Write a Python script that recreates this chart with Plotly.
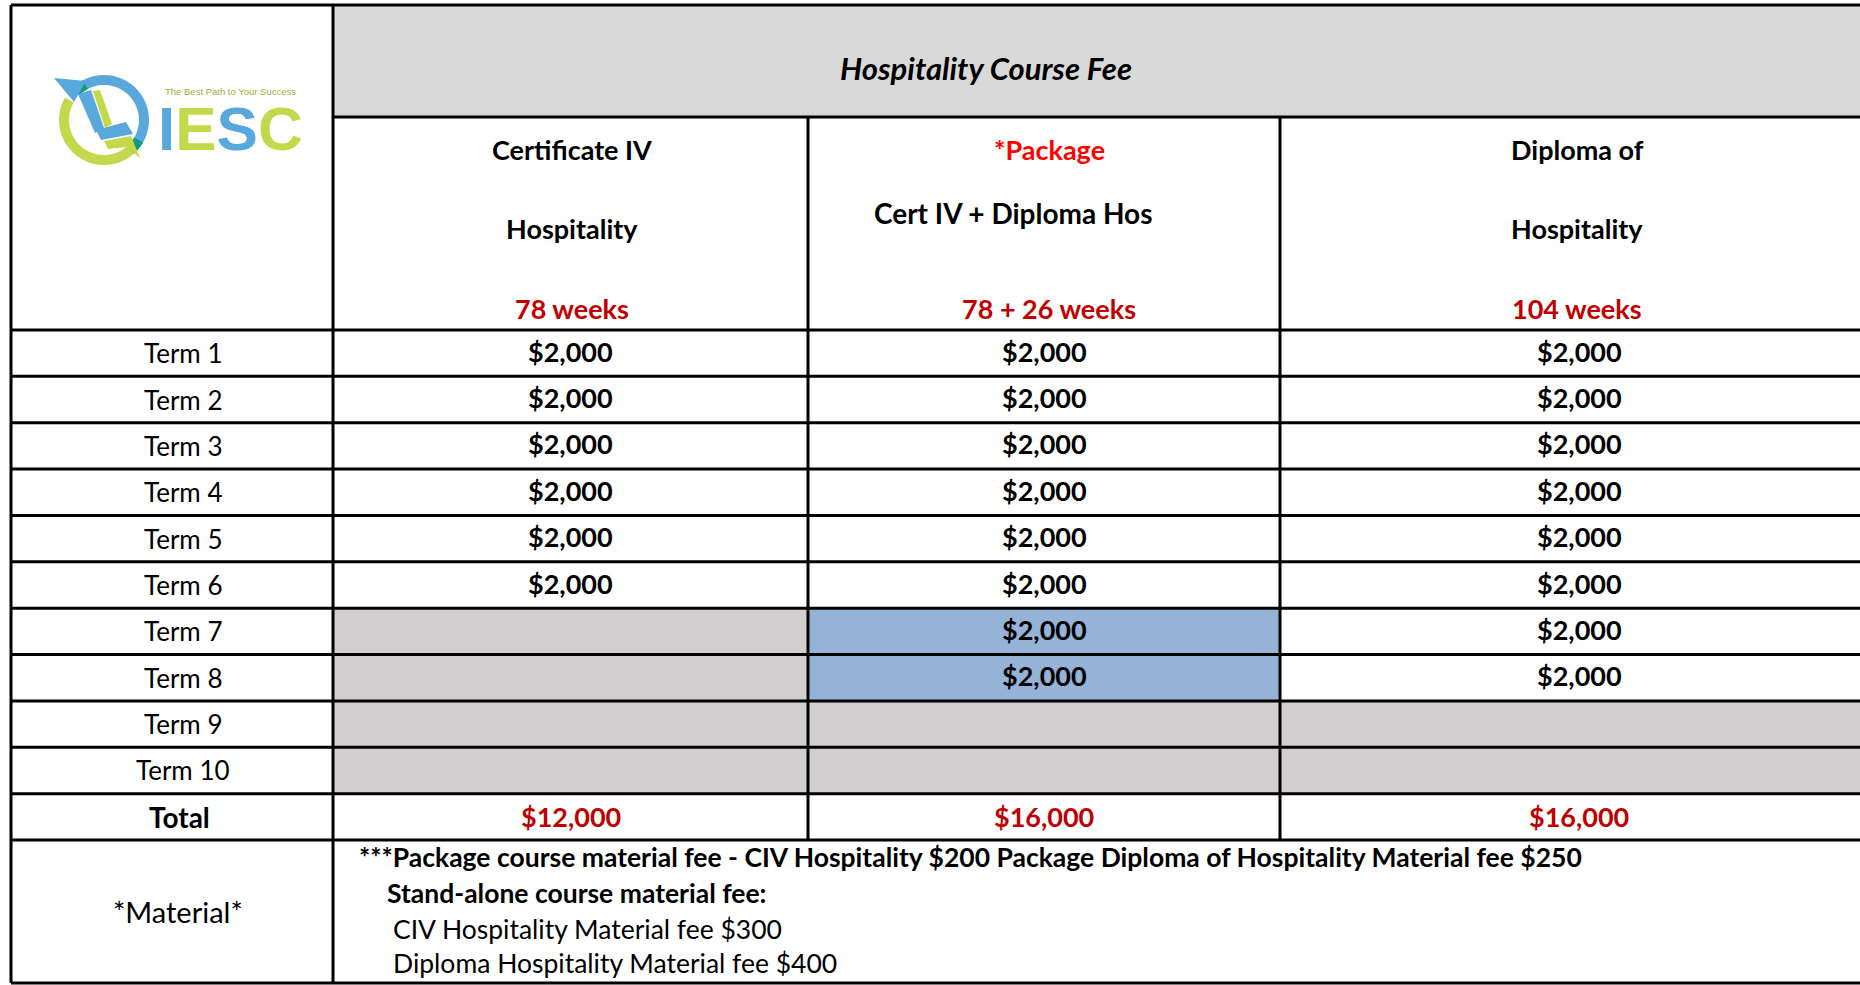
import numpy as np
import plotly.graph_objects as go

# ---------------- data ----------------
title = "Hospitality Course Fee"
course_names = [
    ["Certificate IV", "Hospitality"],
    ["*Package", "Cert IV + Diploma Hos"],
    ["Diploma of", "Hospitality"],
]
course_weeks = ["78 weeks", "78 + 26 weeks", "104 weeks"]
terms = ["Term 1", "Term 2", "Term 3", "Term 4", "Term 5",
         "Term 6", "Term 7", "Term 8", "Term 9", "Term 10"]
cert_iv_fees = [2000, 2000, 2000, 2000, 2000, 2000, None, None, None, None]
package_fees = [2000, 2000, 2000, 2000, 2000, 2000, 2000, 2000, None, None]
diploma_fees = [2000, 2000, 2000, 2000, 2000, 2000, 2000, 2000, None, None]
totals = [12000, 16000, 16000]
total_label = "Total"
material_label = "*Material*"
material_lines = [
    "***Package course material fee - CIV Hospitality $200 Package Diploma of Hospitality Material fee $250",
    "Stand-alone course material fee:",
    "CIV Hospitality Material fee $300",
    "Diploma Hospitality Material fee $400",
]
material_bold = [True, True, False, False]
logo_tagline = "The Best Path to Your Success"
logo_letters = ["I", "E", "S", "C"]

# ---------------- layout / style ----------------
W, H = 1860, 985
FONT = "Lato, 'Open Sans', sans-serif"
BLACK = "#000000"
DARKRED = "#C00000"
RED = "#FF0000"
HEAD_GRAY = "#D9D9D9"
EMPTY_GRAY = "#D0CECE"
BLUE_CELL = "#95B3D7"
LOGO_BLUE = "#58A8DC"
LOGO_GREEN = "#C3D84A"
LOGO_TEAL = "#139C7E"
LW = 3
FS_BOLD = 27
FS_REG = 26

col_x = [11, 333, 808, 1280, 1878]
label_cx = 183
top_y = 5
band_y = 117
head_y = 330
row_h = (840 - head_y) / 11.0
row_y = [head_y + i * row_h for i in range(12)]  # 10 terms + total
mat_bottom = 983
highlight_package_rows = {6, 7}

fee_cols = [cert_iv_fees, package_fees, diploma_fees]

fig = go.Figure()
fig.add_trace(go.Scatter(x=[0, W], y=[0, H], mode="markers",
                         marker=dict(opacity=0), hoverinfo="skip", showlegend=False))

shapes = []
annots = []


def rect(x0, y0, x1, y1, color):
    shapes.append(dict(type="rect", xref="x", yref="y", x0=x0, y0=y0, x1=x1, y1=y1,
                       fillcolor=color, line=dict(width=0), layer="below"))


def line(x0, y0, x1, y1, w=LW):
    shapes.append(dict(type="line", xref="x", yref="y", x0=x0, y0=y0, x1=x1, y1=y1,
                       line=dict(color=BLACK, width=w), layer="above"))


def text(x, y, s, size=FS_BOLD, color=BLACK, bold=False, italic=False, anchor="center", family=FONT):
    t = s
    if bold:
        t = "<b>" + t + "</b>"
    if italic:
        t = "<i>" + t + "</i>"
    annots.append(dict(x=x, y=y, xref="x", yref="y", text=t, showarrow=False,
                       xanchor=anchor, yanchor="middle",
                       font=dict(family=family, size=size, color=color)))


# fills
rect(col_x[1], top_y, col_x[4], band_y, HEAD_GRAY)
for ci, fees in enumerate(fee_cols):
    for ri, v in enumerate(fees):
        if v is None:
            rect(col_x[ci + 1], row_y[ri], col_x[ci + 2], row_y[ri + 1], EMPTY_GRAY)
        elif ci == 1 and ri in highlight_package_rows:
            rect(col_x[ci + 1], row_y[ri], col_x[ci + 2], row_y[ri + 1], BLUE_CELL)

# grid lines
line(col_x[0], top_y, col_x[4], top_y)
line(col_x[1], band_y, col_x[4], band_y)
for y in row_y:
    line(col_x[0], y, col_x[4], y)
line(col_x[0], mat_bottom, col_x[4], mat_bottom)
line(col_x[0], top_y, col_x[0], mat_bottom)
line(col_x[1], top_y, col_x[1], mat_bottom)
line(col_x[2], band_y, col_x[2], row_y[-1])
line(col_x[3], band_y, col_x[3], row_y[-1])

# title
text(986, 68, title, size=31, bold=True, italic=True)

# column headers
col_cx = [(col_x[i + 1] + col_x[i + 2]) / 2 for i in range(3)]
header_cx = [[572, 572, 572], [1049, 1013, 1049], [1577, 1577, 1577]]
header_line_y = [[149, 228], [149, 213], [149, 228]]
header_size = [[FS_BOLD, FS_BOLD], [FS_BOLD, 28], [FS_BOLD, FS_BOLD]]
for ci in range(3):
    for li, s in enumerate(course_names[ci]):
        c = RED if s.startswith("*") else BLACK
        text(header_cx[ci][li], header_line_y[ci][li], s, size=header_size[ci][li], color=c, bold=True)
    text(header_cx[ci][2], 308, course_weeks[ci], color=DARKRED, bold=True)

# term rows
for ri, t in enumerate(terms):
    cy = (row_y[ri] + row_y[ri + 1]) / 2
    text(label_cx, cy, t, size=FS_REG)
    for ci, fees in enumerate(fee_cols):
        v = fees[ri]
        if v is not None:
            text(col_cx[ci], cy - 2, f"${v:,}", bold=True)

# totals
cy = (row_y[10] + row_y[11]) / 2
text(label_cx - 4, cy, total_label, size=28, bold=True)
for ci, v in enumerate(totals):
    text(col_cx[ci], cy, f"${v:,}", color=DARKRED, bold=True)

# material row
text(label_cx - 5, (row_y[11] + mat_bottom) / 2, material_label, size=29)
mat_y = [857, 893, 929, 963]
mat_x = [357, 385, 391, 391]
mat_size = [26.5, 26.5, 26.5, 26.5]
for s, b, x, y, fs in zip(material_lines, material_bold, mat_x, mat_y, mat_size):
    text(x, y, s, size=fs, bold=b, anchor="left")

# ---------------- logo (decoration) ----------------
lcx, lcy, r_out, r_in = 104, 120, 45, 35


def arc_path(a0, a1, n=40):
    th = np.radians(np.linspace(a0, a1, n))
    xo = lcx + r_out * np.cos(th)
    yo = lcy - r_out * np.sin(th)
    xi = lcx + r_in * np.cos(th[::-1])
    yi = lcy - r_in * np.sin(th[::-1])
    pts = list(zip(np.r_[xo, xi], np.r_[yo, yi]))
    return "M " + " L ".join(f"{x:.1f},{y:.1f}" for x, y in pts) + " Z"


def poly(pts, color):
    p = "M " + " L ".join(f"{x},{y}" for x, y in pts) + " Z"
    shapes.append(dict(type="path", xref="x", yref="y", path=p, fillcolor=color,
                       line=dict(width=0), layer="above"))


shapes.append(dict(type="path", xref="x", yref="y", path=arc_path(-40, 128),
                   fillcolor=LOGO_BLUE, line=dict(width=0)))
shapes.append(dict(type="path", xref="x", yref="y", path=arc_path(150, 320),
                   fillcolor=LOGO_GREEN, line=dict(width=0)))
shapes.append(dict(type="path", xref="x", yref="y", path=arc_path(-48, -30),
                   fillcolor=LOGO_TEAL, line=dict(width=0)))
shapes.append(dict(type="path", xref="x", yref="y", path=arc_path(118, 135),
                   fillcolor=LOGO_TEAL, line=dict(width=0)))
# arrow head upper-left
poly([(54, 78), (86, 81), (74, 102)], LOGO_BLUE)
# inner book / path shapes
poly([(78, 94), (91, 90), (104, 128), (95, 133)], LOGO_BLUE)
poly([(93, 91), (100, 90), (112, 124), (105, 128)], LOGO_GREEN)
poly([(96, 130), (126, 122), (133, 134), (101, 140)], LOGO_BLUE)
poly([(104, 141), (131, 136), (140, 158), (127, 147), (108, 149)], LOGO_GREEN)

text(230, 91, logo_tagline, size=9.5, color="#9DAF3C", family="'Liberation Sans', Arial, sans-serif")
logo_cols = [LOGO_BLUE, LOGO_GREEN, LOGO_BLUE, LOGO_GREEN]
iesc = "".join(f"<span style='color:{c}'>{l}</span>" for l, c in zip(logo_letters, logo_cols))
annots.append(dict(x=230, y=128, xref="x", yref="y", text="<b>" + iesc + "</b>", showarrow=False,
                   xanchor="center", yanchor="middle",
                   font=dict(family="'Liberation Sans', Arial, sans-serif", size=62)))

fig.update_layout(
    width=W, height=H, margin=dict(l=0, r=0, t=0, b=0, pad=0),
    paper_bgcolor="white", plot_bgcolor="white", showlegend=False,
    xaxis=dict(range=[0, W], visible=False, fixedrange=True),
    yaxis=dict(range=[H, 0], visible=False, fixedrange=True),
    shapes=shapes, annotations=annots,
)
fig.write_html("out.html", config={"displayModeBar": False},
               post_script="document.body.style.margin='0';document.body.style.overflow='hidden';")
